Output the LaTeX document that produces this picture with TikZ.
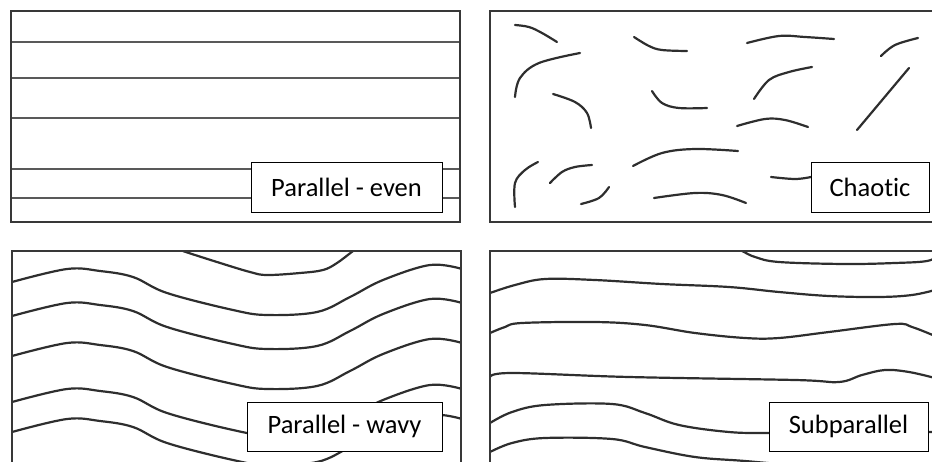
\documentclass[tikz,border=0pt]{standalone}
\usepackage{fontspec}
\setmainfont{Carlito}[Ligatures=NoCommon]
\begin{document}
\begin{tikzpicture}[x=1pt,y=-1pt]
\tikzset{
  panel/.style={draw=black!78, line width=2.8pt},
  layer/.style={draw=black!65, line width=2.1pt},
  trace/.style={draw=black!82, line width=2.2pt, line cap=round},
  tag/.style={draw=black, line width=1pt, fill=white, inner sep=0pt,
              font=\fontsize{26.5}{30}\selectfont},
}
\useasboundingbox (0,0) rectangle (932,461);
\clip (0,0) rectangle (932,461);

% ---------- Parallel - even ----------
\begin{scope}
  \clip (11,11) rectangle (460,222);
  \foreach \yy in {42,78,118,169,198}
    \draw[layer] (11,\yy) -- (460,\yy);
\end{scope}
\draw[panel] (11,11) rectangle (460,222);
\node[tag, minimum width=191pt, minimum height=50pt] (even) at (346.5,187) {Parallel - even};

% ---------- Chaotic ----------
\draw[trace] plot[smooth, tension=0.6] coordinates {(515,25)(529,27)(542,33)(557,42)};
\draw[trace] plot[smooth, tension=0.6] coordinates {(634,37)(649,46)(662,50)(687,51)};
\draw[trace] plot[smooth, tension=0.6] coordinates {(747,43)(779,36)(805,37)(834,39)};
\draw[trace] plot[smooth, tension=0.6] coordinates {(881,56)(895,45)(918,38)};
\draw[trace] plot[smooth, tension=0.6] coordinates {(515,97)(520,78)(539,63)(580,53)};
\draw[trace] plot[smooth, tension=0.6] coordinates {(553,94)(575,102)(587,113)(591,128)};
\draw[trace] plot[smooth, tension=0.6] coordinates {(652,91)(662,103)(679,108)(707,108)};
\draw[trace] plot[smooth, tension=0.6] coordinates {(754,99)(769,80)(789,72)(812,67)};
\draw[trace] (909,68) -- (857,130);
\draw[trace] plot[smooth, tension=0.6] coordinates {(737,126)(765,119)(785,120)(808,127)};
\draw[trace] plot[smooth, tension=0.6] coordinates {(515,207)(515,183)(525,170)(538,162)};
\draw[trace] plot[smooth, tension=0.6] coordinates {(550,183)(562,172)(575,167)(592,165)};
\draw[trace] plot[smooth, tension=0.6] coordinates {(581,204)(599,198)(609,187)};
\draw[trace] plot[smooth, tension=0.6] coordinates {(633,166)(662,153)(695,149)(738,151)};
\draw[trace] plot[smooth, tension=0.6] coordinates {(654,198)(695,193)(722,195)(746,203)};
\draw[trace] plot[smooth, tension=0.6] coordinates {(771,177)(795,179)(811,177)};
\draw[panel] (490,11) rectangle (945,222);
\node[tag, minimum width=118pt, minimum height=50pt] (chaotic) at (870,187) {Chaotic};

% ---------- Parallel - wavy ----------
\begin{scope}
  \clip (12,251) rectangle (461,475);
  \draw[trace] plot[smooth, tension=0.6] coordinates
    {(165,244)(183,251)(217,262)(250,272)(267,275)(300,273)(323,270)(337,263)(353,251)(365,242)};
  \foreach \o in {0,34,74,120,150}
    \draw[trace, shift={(0,\o)}] plot[smooth, tension=0.6] coordinates
      {(12,282)(67,269)(100,271)(133,277)(167,293)(233,310)(267,315)(317,312)
       (350,297)(383,280)(430,265)(462,269)};
\end{scope}
\draw[panel] (12,251) rectangle (461,480);
\node[tag, minimum width=195pt, minimum height=49pt] (wavy) at (344.5,426.5) {Parallel - wavy};

% ---------- Subparallel ----------
\begin{scope}
  \clip (490,251) rectangle (945,475);
  \draw[trace] plot[smooth, tension=0.6] coordinates
    {(730,246)(742,251)(755,257)(779,262)(845,264)(895,263)(927,261)(940,255)};
  \draw[trace] plot[smooth, tension=0.6] coordinates
    {(490,293)(515,285)(545,279)(595,280)(662,284)(729,287)(779,292)(829,296)(879,297)(912,295)(935,290)};
  \draw[trace] plot[smooth, tension=0.6] coordinates
    {(490,333)(505,327)(522,323)(595,322)(645,325)(695,333)(745,338)(779,338)(829,332)(895,324)(912,327)(935,336)};
  \draw[trace] plot[smooth, tension=0.6] coordinates
    {(490,377)(512,373)(629,377)(795,380)(839,382)(862,375)(885,370)(909,372)(935,378)};
  \draw[trace] plot[smooth, tension=0.6] coordinates
    {(490,423)(512,412)(545,405)(612,404)(645,413)(679,425)(729,432)(769,433)(850,433)(935,432)};
  \draw[trace] plot[smooth, tension=0.6] coordinates
    {(490,452)(512,443)(545,438)(612,439)(645,447)(695,457)(745,461)(800,466)};
\end{scope}
\draw[panel] (490,251) rectangle (945,480);
\node[tag, minimum width=159pt, minimum height=49pt] (subpar) at (848.5,426.5) {Subparallel};
\end{tikzpicture}
\end{document}
